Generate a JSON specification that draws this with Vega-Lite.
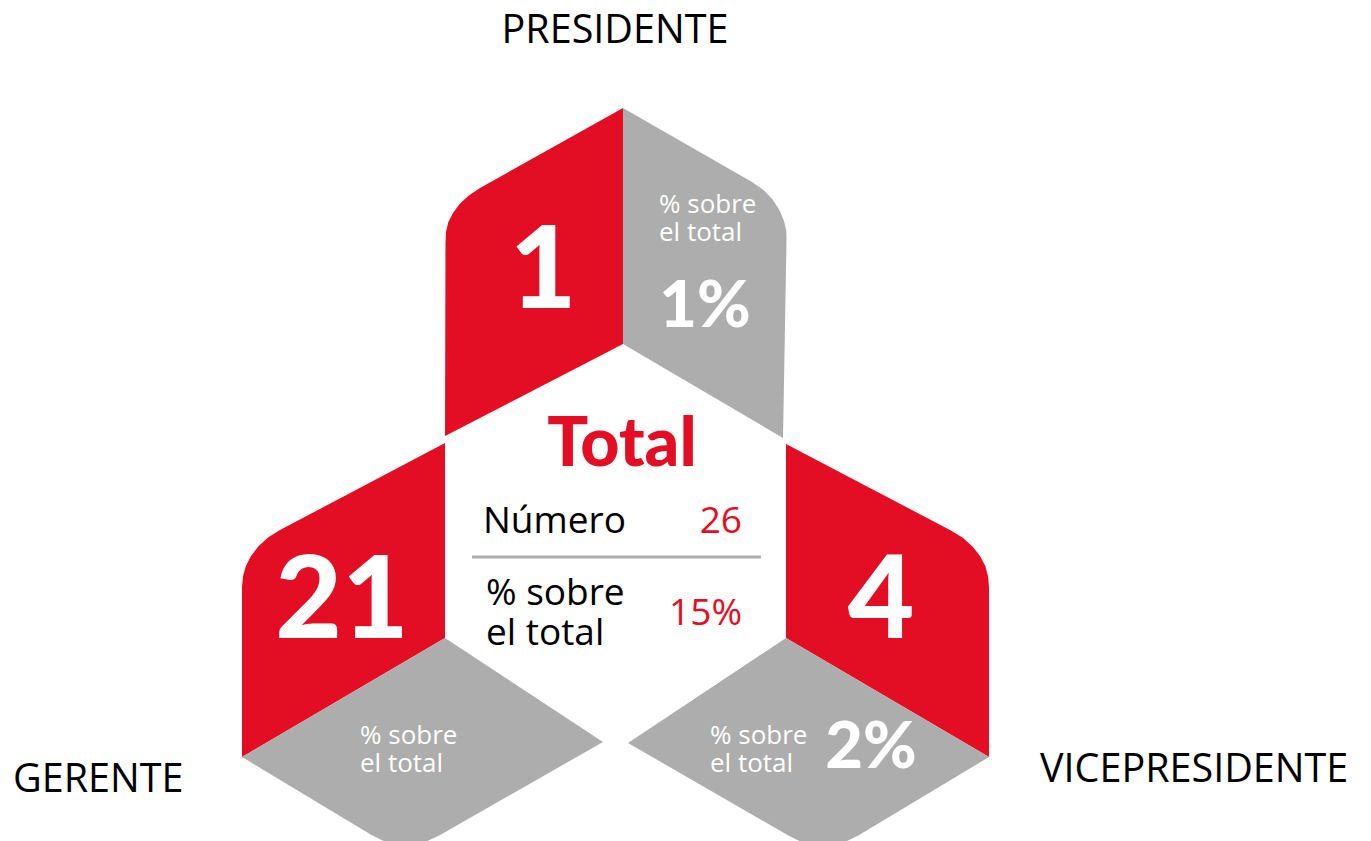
{
  "$schema": "https://vega.github.io/schema/vega-lite/v6.json",
  "autosize": {"type": "fit", "contains": "padding"},
  "width": 1371,
  "height": 841,
  "padding": 0,
  "background": "white",
  "config": {"view": {"stroke": null}},
  "datasets": {
    "formas": [
      {"forma": "P1", "parte": "cantidad", "i": 0, "x": 623, "y": 108},
      {"forma": "P1", "parte": "cantidad", "i": 1, "x": 480, "y": 188},
      {"forma": "P1", "parte": "cantidad", "i": 2, "x": 468.5, "y": 195.8},
      {"forma": "P1", "parte": "cantidad", "i": 3, "x": 459.6, "y": 204.1},
      {"forma": "P1", "parte": "cantidad", "i": 4, "x": 452.8, "y": 213.2},
      {"forma": "P1", "parte": "cantidad", "i": 5, "x": 448.2, "y": 222.5},
      {"forma": "P1", "parte": "cantidad", "i": 6, "x": 445.9, "y": 232.5},
      {"forma": "P1", "parte": "cantidad", "i": 7, "x": 445.5, "y": 243},
      {"forma": "P1", "parte": "cantidad", "i": 8, "x": 445, "y": 436},
      {"forma": "P1", "parte": "cantidad", "i": 9, "x": 623, "y": 344},
      {"forma": "P2", "parte": "porcentaje", "i": 0, "x": 623, "y": 108},
      {"forma": "P2", "parte": "porcentaje", "i": 1, "x": 752, "y": 182},
      {"forma": "P2", "parte": "porcentaje", "i": 2, "x": 763.5, "y": 190},
      {"forma": "P2", "parte": "porcentaje", "i": 3, "x": 772.6, "y": 199.6},
      {"forma": "P2", "parte": "porcentaje", "i": 4, "x": 779.4, "y": 209.9},
      {"forma": "P2", "parte": "porcentaje", "i": 5, "x": 784, "y": 220.9},
      {"forma": "P2", "parte": "porcentaje", "i": 6, "x": 786.2, "y": 230.2},
      {"forma": "P2", "parte": "porcentaje", "i": 7, "x": 786.5, "y": 240},
      {"forma": "P2", "parte": "porcentaje", "i": 8, "x": 783, "y": 438},
      {"forma": "P2", "parte": "porcentaje", "i": 9, "x": 623, "y": 344},
      {"forma": "G1", "parte": "cantidad", "i": 0, "x": 445, "y": 443},
      {"forma": "G1", "parte": "cantidad", "i": 1, "x": 280, "y": 530},
      {"forma": "G1", "parte": "cantidad", "i": 2, "x": 268, "y": 537.5},
      {"forma": "G1", "parte": "cantidad", "i": 3, "x": 258.3, "y": 546.5},
      {"forma": "G1", "parte": "cantidad", "i": 4, "x": 251, "y": 556},
      {"forma": "G1", "parte": "cantidad", "i": 5, "x": 246, "y": 565.8},
      {"forma": "G1", "parte": "cantidad", "i": 6, "x": 243, "y": 576},
      {"forma": "G1", "parte": "cantidad", "i": 7, "x": 242, "y": 587},
      {"forma": "G1", "parte": "cantidad", "i": 8, "x": 242, "y": 757},
      {"forma": "G1", "parte": "cantidad", "i": 9, "x": 445, "y": 638},
      {"forma": "G2", "parte": "porcentaje", "i": 0, "x": 242, "y": 757},
      {"forma": "G2", "parte": "porcentaje", "i": 1, "x": 445, "y": 638},
      {"forma": "G2", "parte": "porcentaje", "i": 2, "x": 603, "y": 742},
      {"forma": "G2", "parte": "porcentaje", "i": 3, "x": 439.7, "y": 835.2},
      {"forma": "G2", "parte": "porcentaje", "i": 4, "x": 427, "y": 841.2},
      {"forma": "G2", "parte": "porcentaje", "i": 5, "x": 415, "y": 844.3},
      {"forma": "G2", "parte": "porcentaje", "i": 6, "x": 405.1, "y": 844.9},
      {"forma": "G2", "parte": "porcentaje", "i": 7, "x": 394, "y": 844},
      {"forma": "G2", "parte": "porcentaje", "i": 8, "x": 382.5, "y": 840.5},
      {"forma": "G2", "parte": "porcentaje", "i": 9, "x": 370.7, "y": 834.4},
      {"forma": "V1", "parte": "cantidad", "i": 0, "x": 786, "y": 444},
      {"forma": "V1", "parte": "cantidad", "i": 1, "x": 950, "y": 530},
      {"forma": "V1", "parte": "cantidad", "i": 2, "x": 962.5, "y": 537.5},
      {"forma": "V1", "parte": "cantidad", "i": 3, "x": 972.5, "y": 546.5},
      {"forma": "V1", "parte": "cantidad", "i": 4, "x": 980, "y": 556},
      {"forma": "V1", "parte": "cantidad", "i": 5, "x": 985.3, "y": 566},
      {"forma": "V1", "parte": "cantidad", "i": 6, "x": 988.2, "y": 577},
      {"forma": "V1", "parte": "cantidad", "i": 7, "x": 989, "y": 588},
      {"forma": "V1", "parte": "cantidad", "i": 8, "x": 989, "y": 757},
      {"forma": "V1", "parte": "cantidad", "i": 9, "x": 786, "y": 638},
      {"forma": "V2", "parte": "porcentaje", "i": 0, "x": 628, "y": 743},
      {"forma": "V2", "parte": "porcentaje", "i": 1, "x": 786, "y": 638},
      {"forma": "V2", "parte": "porcentaje", "i": 2, "x": 989, "y": 757},
      {"forma": "V2", "parte": "porcentaje", "i": 3, "x": 858.3, "y": 835.4},
      {"forma": "V2", "parte": "porcentaje", "i": 4, "x": 846, "y": 841.5},
      {"forma": "V2", "parte": "porcentaje", "i": 5, "x": 834.5, "y": 844.8},
      {"forma": "V2", "parte": "porcentaje", "i": 6, "x": 823.9, "y": 845.9},
      {"forma": "V2", "parte": "porcentaje", "i": 7, "x": 812.5, "y": 845},
      {"forma": "V2", "parte": "porcentaje", "i": 8, "x": 800.5, "y": 841.5},
      {"forma": "V2", "parte": "porcentaje", "i": 9, "x": 789.3, "y": 836}
    ],
    "divisor": [{"x": 472, "x2": 761, "y": 557}],
    "numeros": [
      {"cargo": "PRESIDENTE", "texto": "1", "x": 543, "y": 308},
      {"cargo": "GERENTE", "texto": "21", "x": 342, "y": 638},
      {"cargo": "VICEPRESIDENTE", "texto": "4", "x": 881, "y": 638}
    ],
    "porcentajes": [
      {"cargo": "PRESIDENTE", "texto": "1%", "x": 705, "y": 327},
      {"cargo": "VICEPRESIDENTE", "texto": "2%", "x": 871, "y": 768}
    ],
    "notas": [
      {"cargo": "PRESIDENTE", "texto": "% sobre\nel total", "x": 659, "y": 212.5},
      {"cargo": "GERENTE", "texto": "% sobre\nel total", "x": 360, "y": 743.5},
      {"cargo": "VICEPRESIDENTE", "texto": "% sobre\nel total", "x": 710, "y": 743.5}
    ],
    "titulo": [{"texto": "Total", "x": 622, "y": 466}],
    "etiquetasTotal": [
      {"texto": "Número", "x": 483, "y": 533},
      {"texto": "% sobre\nel total", "x": 486, "y": 605}
    ],
    "valoresTotal": [
      {"texto": "26", "x": 742, "y": 533},
      {"texto": "15%", "x": 742, "y": 625}
    ],
    "cargosCentro": [{"texto": "PRESIDENTE", "x": 615, "y": 43}],
    "cargosIzq": [
      {"texto": "GERENTE", "x": 13, "y": 792},
      {"texto": "VICEPRESIDENTE", "x": 1040, "y": 782}
    ]
  },
  "encoding": {
    "x": {"field": "x", "type": "quantitative", "scale": {"domain": [0, 1371], "nice": false, "zero": false}, "axis": null},
    "y": {"field": "y", "type": "quantitative", "scale": {"domain": [0, 841], "nice": false, "zero": false, "reverse": true}, "axis": null}
  },
  "layer": [
    {
      "data": {"name": "formas"},
      "mark": {"type": "line", "filled": true, "clip": true, "interpolate": "linear"},
      "encoding": {
        "color": {"field": "parte", "type": "nominal", "scale": {"domain": ["cantidad", "porcentaje"], "range": ["#E30E24", "#ADADAD"]}, "legend": null},
        "detail": {"field": "forma", "type": "nominal"},
        "order": {"field": "i", "type": "quantitative"}
      }
    },
    {
      "data": {"name": "divisor"},
      "mark": {"type": "rule", "color": "#ADADAD", "strokeWidth": 3},
      "encoding": {"x2": {"field": "x2"}}
    },
    {
      "data": {"name": "numeros"},
      "mark": {"type": "text", "font": "Lato", "fontWeight": 900, "fontSize": 115, "color": "white", "align": "center", "baseline": "alphabetic"},
      "encoding": {"text": {"field": "texto", "type": "nominal"}}
    },
    {
      "data": {"name": "porcentajes"},
      "mark": {"type": "text", "font": "Lato", "fontWeight": 900, "fontSize": 65, "color": "white", "align": "center", "baseline": "alphabetic"},
      "encoding": {"text": {"field": "texto", "type": "nominal"}}
    },
    {
      "data": {"name": "notas"},
      "mark": {"type": "text", "font": "Open Sans", "fontSize": 26, "color": "white", "align": "left", "baseline": "alphabetic", "lineBreak": "\n", "lineHeight": 28.5},
      "encoding": {"text": {"field": "texto", "type": "nominal"}}
    },
    {
      "data": {"name": "titulo"},
      "mark": {"type": "text", "font": "Lato", "fontWeight": 900, "fontSize": 68, "color": "#E30E24", "align": "center", "baseline": "alphabetic"},
      "encoding": {"text": {"field": "texto", "type": "nominal"}}
    },
    {
      "data": {"name": "etiquetasTotal"},
      "mark": {"type": "text", "font": "Open Sans", "fontSize": 37, "color": "black", "align": "left", "baseline": "alphabetic", "lineBreak": "\n", "lineHeight": 40},
      "encoding": {"text": {"field": "texto", "type": "nominal"}}
    },
    {
      "data": {"name": "valoresTotal"},
      "mark": {"type": "text", "font": "Open Sans", "fontSize": 37, "color": "#E30E24", "align": "right", "baseline": "alphabetic"},
      "encoding": {"text": {"field": "texto", "type": "nominal"}}
    },
    {
      "data": {"name": "cargosCentro"},
      "mark": {"type": "text", "font": "Open Sans", "fontSize": 39.5, "color": "black", "align": "center", "baseline": "alphabetic"},
      "encoding": {"text": {"field": "texto", "type": "nominal"}}
    },
    {
      "data": {"name": "cargosIzq"},
      "mark": {"type": "text", "font": "Open Sans", "fontSize": 39.5, "color": "black", "align": "left", "baseline": "alphabetic"},
      "encoding": {"text": {"field": "texto", "type": "nominal"}}
    }
  ]
}
